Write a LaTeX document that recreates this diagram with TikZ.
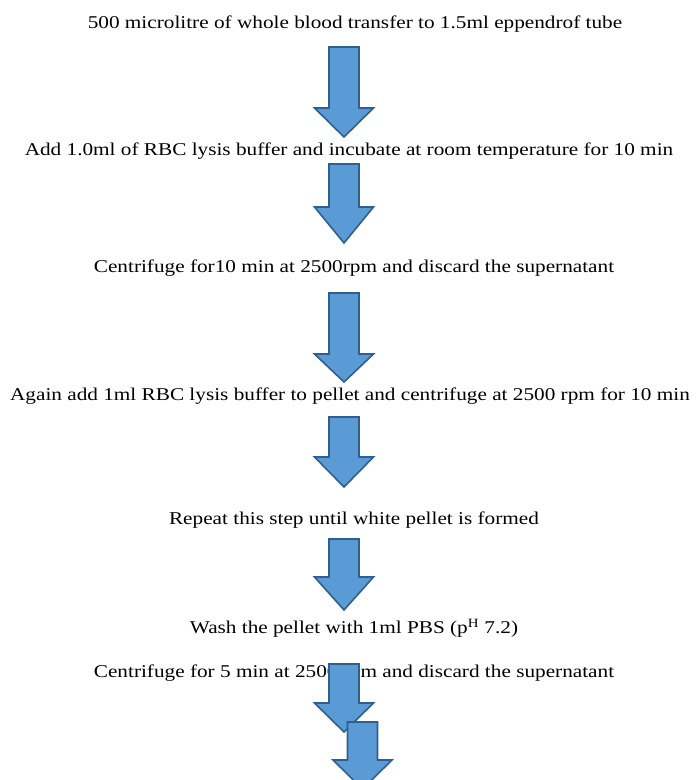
\documentclass[tikz,border=0pt]{standalone}
\usepackage{fontspec}
\usepackage{graphicx}
\setmainfont{Liberation Serif}
\definecolor{arrowfill}{HTML}{5B9BD5}
\definecolor{arrowline}{HTML}{2F5F8F}
\newcommand\widetext[1]{\scalebox{1.18}[1]{#1}}
\begin{document}
\begin{tikzpicture}[x=1pt,y=-1pt,
  steptext/.style={font=\fontsize{18}{21}\selectfont, inner sep=0pt, anchor=center},
  blockarrow/.style={fill=arrowfill, draw=arrowline, line width=1.6pt, line join=miter}]
\useasboundingbox (0,0) rectangle (698,780);
\newcommand\downarrowshape[4]{% cx, top, shoulder, tip
  \path[blockarrow] (#1-15,#2) -- (#1+15,#2) -- (#1+15,#3) -- (#1+29.5,#3) -- (#1,#4) -- (#1-29.5,#3) -- (#1-15,#3) -- cycle;}
\node[steptext] (t1) at (355,24) {\widetext{500 microlitre of whole blood transfer to 1.5ml eppendrof tube}};
\node[steptext] (t2) at (349,151) {\widetext{Add 1.0ml of RBC lysis buffer and incubate at room temperature for 10 min}};
\node[steptext] (t3) at (354,268) {\widetext{Centrifuge for10 min at 2500rpm and discard the supernatant}};
\node[steptext] (t4) at (350,396) {\widetext{Again add 1ml RBC lysis buffer to pellet and centrifuge at 2500 rpm for 10 min}};
\node[steptext] (t5) at (354,520) {\widetext{Repeat this step until white pellet is formed}};
\node[steptext] (t6) at (354,628) {\widetext{Wash the pellet with 1ml PBS (p\textsuperscript{H} 7.2)}};
\node[steptext] (t7) at (354,673) {\widetext{Centrifuge for 5 min at 2500 rpm and discard the supernatant}};
\downarrowshape{344}{47}{108}{137}
\downarrowshape{344}{164}{207}{243}
\downarrowshape{344}{293}{354}{382}
\downarrowshape{344}{417}{457}{487}
\downarrowshape{344}{539}{577}{610}
\downarrowshape{344}{664}{703}{732}
\downarrowshape{362.5}{722}{760}{789}
\end{tikzpicture}
\end{document}
